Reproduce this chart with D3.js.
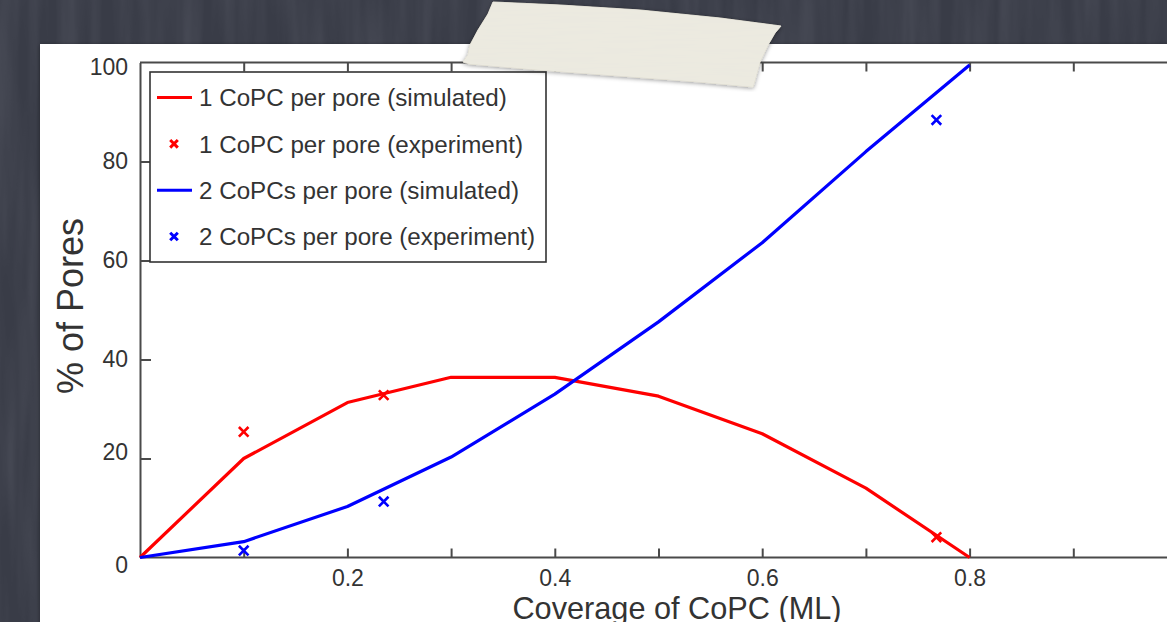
<!DOCTYPE html>
<html>
<head>
<meta charset="utf-8">
<script src="https://cdn.jsdelivr.net/npm/d3@7"></script>
<style>
	html, body { margin: 0; padding: 0; background: #3a3d48; overflow: hidden; }
	svg { display: block; font-family: 'Liberation Sans', Arial, sans-serif; }
</style>
</head>
<body>
<svg id="chart" width="1167" height="622"></svg>
<script>
'use strict';

// values
const coverage = [0, 0.1, 0.2, 0.3, 0.4, 0.5, 0.6, 0.7, 0.8];
const oneSim = [0, 20, 31.3, 36.4, 36.4, 32.6, 25, 14, 0];
const twoSim = [0, 3.2, 10.3, 20.3, 33, 47.6, 63.6, 82, 99.5];
const expCoverage = [0.1, 0.235, 0.768];
const oneExp = [25.4, 32.8, 4.1];
const twoExp = [1.4, 11.3, 88.4];
const xTicks = [0.1, 0.2, 0.3, 0.4, 0.5, 0.6, 0.7, 0.8, 0.9, 1.0];
const xLabelled = [0.2, 0.4, 0.6, 0.8];
const yTicks = [0, 20, 40, 60, 80, 100];
const legendNames = [
	'1 CoPC per pore (simulated)',
	'1 CoPC per pore (experiment)',
	'2 CoPCs per pore (simulated)',
	'2 CoPCs per pore (experiment)'
];

const W = 1167, H = 622;
const svg = d3.select('#chart');
const defs = svg.append('defs');

// streaky dark backdrop
const bgf = defs.append('filter').attr('id', 'streaks').attr('x', 0).attr('y', 0).attr('width', 1).attr('height', 1);
bgf.append('feTurbulence').attr('type', 'fractalNoise').attr('baseFrequency', '0.05 0.004').attr('numOctaves', 3).attr('seed', 4);
bgf.append('feColorMatrix').attr('type', 'matrix')
	.attr('values', '0 0 0 0 0.25  0 0 0 0 0.26  0 0 0 0 0.31  0.35 0 0 0 -0.12');
const tapef = defs.append('filter').attr('id', 'tapeTex');
tapef.append('feTurbulence').attr('type', 'fractalNoise').attr('baseFrequency', '0.02 0.4').attr('numOctaves', 2).attr('seed', 7).attr('result', 'n');
tapef.append('feColorMatrix').attr('in', 'n').attr('type', 'matrix')
	.attr('values', '0 0 0 0 0.8  0 0 0 0 0.79  0 0 0 0 0.74  0.35 0 0 0 -0.05').attr('result', 'c');
tapef.append('feComposite').attr('in', 'c').attr('in2', 'SourceGraphic').attr('operator', 'atop');
const shadow = defs.append('filter').attr('id', 'shadow').attr('x', '-5%').attr('y', '-5%').attr('width', '110%').attr('height', '110%');
shadow.append('feDropShadow').attr('dx', 0).attr('dy', 1).attr('stdDeviation', 2).attr('flood-color', '#000').attr('flood-opacity', 0.4);

svg.append('rect').attr('width', W).attr('height', H).attr('fill', '#393c47');
svg.append('rect').attr('width', W).attr('height', H).attr('filter', 'url(#streaks)');

// white paper
svg.append('rect').attr('x', 40).attr('y', 44).attr('width', W).attr('height', H)
	.attr('fill', '#ffffff').attr('filter', 'url(#shadow)');

const x = d3.scaleLinear().domain([0, 1]).range([140, 1177]);
const y = d3.scaleLinear().domain([0, 100]).range([557.5, 62.5]);

const axisColor = '#4a4a4a', textColor = '#333';

const g = svg.append('g');

g.append('g')
	.attr('transform', `translate(0,${y(0)})`)
	.call(d3.axisBottom(x).tickValues(xTicks).tickSizeInner(-9).tickSizeOuter(0).tickPadding(12)
		.tickFormat(d => xLabelled.some(v => Math.abs(v - d) < 1e-9) ? d3.format('.1f')(d) : ''))
	.call(a => a.select('.domain').attr('d', `M${x(0)},0H${W}`));

g.append('g')
	.attr('transform', `translate(0,${y(100)})`)
	.call(d3.axisTop(x).tickValues(xTicks).tickSizeInner(-9).tickSizeOuter(0).tickFormat(''))
	.call(a => a.select('.domain').attr('d', `M${x(0)},0H${W}`));

// nudges of the end labels, as the original sets them
const yLabelShift = { 0: 8, 20: -6, 100: 5 };
g.append('g')
	.attr('transform', `translate(${x(0)},0)`)
	.call(d3.axisLeft(y).tickValues(yTicks).tickSizeInner(-11).tickSizeOuter(0).tickPadding(12))
	.call(a => a.selectAll('.tick').filter(d => d === 0 || d === 100).select('line').remove())
	.call(a => a.selectAll('.tick text')
		.attr('transform', d => `translate(0,${yLabelShift[d] || 0})`).attr('dy', '0.32em'));

g.selectAll('.domain').attr('stroke', axisColor).attr('stroke-width', 2);
g.selectAll('.tick line').attr('stroke', axisColor).attr('stroke-width', 2);
g.selectAll('.tick text').attr('fill', textColor).attr('font-size', 23)
	.attr('font-family', "'Liberation Sans', Arial, sans-serif");

// axis titles
svg.append('text')
	.attr('x', 677).attr('y', 619).attr('text-anchor', 'middle')
	.attr('font-size', 30.7).attr('fill', textColor)
	.text('Coverage of CoPC (ML)');
svg.append('text')
	.attr('transform', `translate(83,306) rotate(-90)`).attr('text-anchor', 'middle')
	.attr('font-size', 36).attr('fill', textColor)
	.text('% of Pores');

// series
const line = d3.line().x(d => x(d[0])).y(d => y(d[1]));
const plot = svg.append('g');
const series = [
	{ pts: d3.zip(coverage, oneSim), color: '#ff0000' },
	{ pts: d3.zip(coverage, twoSim), color: '#0000ff' }
];
series.forEach(s => {
	plot.append('path').datum(s.pts).attr('d', line)
		.attr('fill', 'none').attr('stroke', s.color).attr('stroke-width', 3.2)
		.attr('stroke-linejoin', 'round');
});

const cross = (sel, c, r) => sel.append('path')
	.attr('d', `M${-r},${-r}L${r},${r}M${-r},${r}L${r},${-r}`)
	.attr('stroke', c).attr('stroke-width', 2.6).attr('fill', 'none');

[{ vals: oneExp, color: '#ff0000' }, { vals: twoExp, color: '#0000ff' }].forEach(s => {
	plot.selectAll(null).data(d3.zip(expCoverage, s.vals)).enter().append('g')
		.attr('transform', d => `translate(${x(d[0])},${y(d[1])})`)
		.each(function () { cross(d3.select(this), s.color, 4.8); });
});

// legend
const legend = svg.append('g');
legend.append('rect').attr('x', 150).attr('y', 72).attr('width', 396).attr('height', 190)
	.attr('fill', '#fff').attr('stroke', '#333').attr('stroke-width', 1.6);
const legendKinds = [
	{ color: '#ff0000', kind: 'line' },
	{ color: '#ff0000', kind: 'cross' },
	{ color: '#0000ff', kind: 'line' },
	{ color: '#0000ff', kind: 'cross' }
];
const rowY = d3.scalePoint().domain(d3.range(legendNames.length)).range([97.5, 236.5]);
legendNames.forEach((name, i) => {
	const row = legend.append('g').attr('transform', `translate(0,${rowY(i)})`);
	if (legendKinds[i].kind === 'line') {
		row.append('line').attr('x1', 157).attr('x2', 192).attr('stroke', legendKinds[i].color).attr('stroke-width', 3);
	} else {
		cross(row.append('g').attr('transform', 'translate(174,0)'), legendKinds[i].color, 3.8)
			.attr('stroke-width', 3);
	}
	row.append('text').attr('x', 199).attr('dy', '0.36em')
		.attr('font-size', 24.2).attr('fill', textColor).text(name);
});

// masking tape
const tapePath = 'M493,2 L560,5 L640,10 L720,18 L781,26 L775,33 L768,45 L760,62 L753,87 L700,82 L620,76 L540,70 L470,64 L463,62 L468,55 L470,45 L478,30 L488,14 Z';
svg.append('path').attr('d', tapePath).attr('fill', '#eceae0')
	.attr('stroke', '#dcd9cc').attr('stroke-width', 1)
	.attr('filter', 'url(#shadow)');
svg.append('path').attr('d', tapePath).attr('fill', '#eceae0').attr('filter', 'url(#tapeTex)');
</script>
</body>
</html>
